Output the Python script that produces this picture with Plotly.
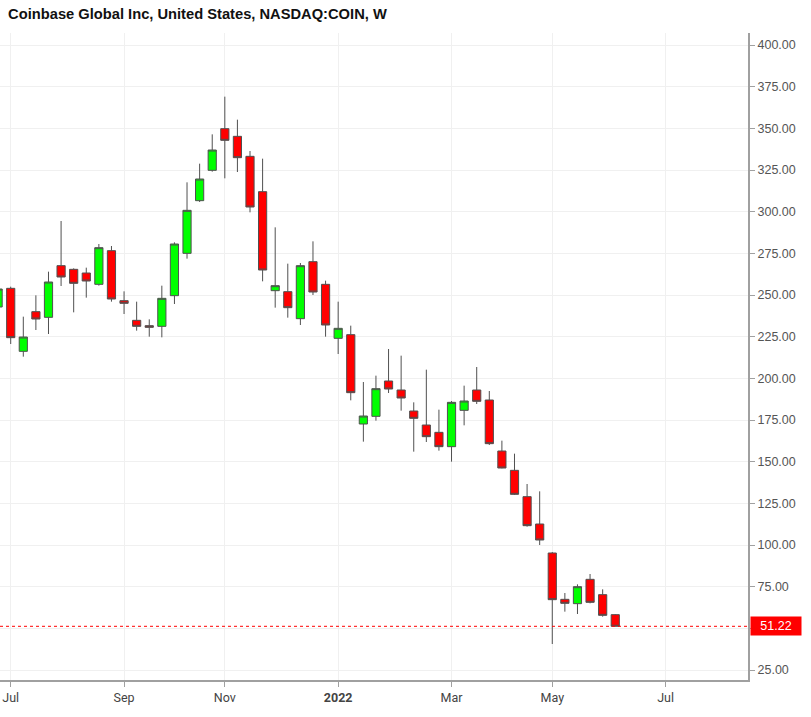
import pandas as pd
import plotly.graph_objects as go

# Weekly bars starting 2021-06-28
start_week = "2021-06-28"
n_weeks = 50

opens = [242.8, 254.0, 216.2, 240.0, 236.6, 267.6, 265.4, 263.2, 256.4, 276.6,
         246.6, 234.8, 231.6, 231.2, 249.6, 275.0, 306.6, 324.8, 349.8, 345.2,
         333.2, 312.0, 252.6, 252.0, 235.8, 270.0, 256.4, 224.0, 226.2, 172.6,
         177.2, 198.4, 193.0, 180.4, 172.0, 167.6, 159.0, 180.8, 193.0, 187.0,
         156.4, 144.8, 129.0, 112.6, 95.2, 67.4, 64.8, 79.4, 70.2, 58.2]
highs = [256.0, 255.0, 237.0, 249.8, 264.0, 294.4, 266.0, 266.4, 280.6, 279.4,
         252.2, 246.0, 235.4, 255.6, 281.6, 317.6, 328.8, 346.4, 369.0, 355.2,
         336.4, 331.8, 290.6, 268.8, 269.2, 282.2, 258.6, 246.0, 231.6, 197.8,
         201.6, 217.6, 213.6, 185.6, 205.2, 181.2, 186.4, 195.6, 206.8, 192.4,
         162.6, 154.8, 136.6, 132.2, 95.8, 71.2, 76.4, 82.6, 73.4, 58.5]
lows = [240.0, 220.6, 213.0, 229.0, 226.6, 255.4, 239.6, 248.4, 255.6, 246.0,
        238.6, 228.6, 225.0, 224.6, 244.6, 271.8, 305.8, 324.0, 320.0, 323.8,
        299.6, 258.2, 242.4, 236.4, 232.0, 250.0, 225.0, 214.6, 186.8, 162.0,
        174.6, 191.2, 180.6, 156.0, 161.8, 156.6, 150.0, 171.8, 184.6, 160.0,
        146.0, 130.0, 111.0, 100.0, 40.6, 60.0, 58.6, 65.0, 57.0, 51.22]
closes = [253.6, 224.4, 224.8, 235.6, 257.8, 260.8, 257.0, 258.4, 278.4, 247.6,
          245.0, 231.2, 230.6, 248.0, 280.6, 300.8, 319.6, 337.0, 342.8, 332.4,
          302.8, 265.0, 255.6, 242.4, 267.6, 251.8, 232.0, 230.0, 191.4, 177.4,
          193.8, 193.6, 188.2, 176.0, 165.0, 159.0, 185.6, 186.4, 186.2, 160.8,
          146.2, 130.4, 111.6, 103.0, 67.2, 65.0, 75.0, 65.6, 57.8, 51.22]

last_price = 51.22

tick_dates = ["2021-07-05", "2021-09-06", "2021-11-01", "2022-01-03",
              "2022-03-07", "2022-05-02", "2022-07-04"]
tick_labels = ["Jul", "Sep", "Nov", "<b>2022</b>", "Mar", "May", "Jul"]

y_ticks = [25, 50, 75, 100, 125, 150, 175, 200, 225, 250, 275, 300, 325, 350, 375, 400]
y_tick_labels = ["25.00", "", "75.00", "100.00", "125.00", "150.00", "175.00", "200.00",
                 "225.00", "250.00", "275.00", "300.00", "325.00", "350.00", "375.00", "400.00"]

dates = pd.date_range(start_week, periods=n_weeks, freq="7D")

fig = go.Figure()
fig.add_trace(go.Candlestick(
    x=dates, open=opens, high=highs, low=lows, close=closes,
    increasing=dict(fillcolor="#00ff00", line=dict(color="#505050", width=1)),
    decreasing=dict(fillcolor="#ff0000", line=dict(color="#505050", width=1)),
    whiskerwidth=0, showlegend=False, hoverinfo="skip",
))

t0 = pd.Timestamp(start_week)
x_left = t0 + pd.Timedelta(days=0.15 * 7)
x_right = t0 + pd.Timedelta(days=59.54 * 7)

fig.add_shape(type="line", xref="paper", x0=0, x1=1, yref="y", y0=last_price, y1=last_price,
              line=dict(color="#ff0000", width=1, dash="dot"))
fig.add_annotation(xref="paper", x=1, yref="y", y=last_price, text=f"{last_price:.2f}",
                   showarrow=False, xanchor="left", yanchor="middle", xshift=2,
                   bgcolor="#ff0000", font=dict(color="white", size=12.5, family="Liberation Sans, Arial"),
                   borderpad=2, width=46)

fig.update_layout(
    width=811, height=717,
    margin=dict(l=0, r=63, t=33, b=37),
    paper_bgcolor="white", plot_bgcolor="white",
    boxgap=0.35, boxgroupgap=0,
    title=dict(text="<b>Coinbase Global Inc, United States, NASDAQ:COIN, W</b>",
               x=0.01, xanchor="left", y=0.988, yanchor="top",
               font=dict(size=14.7, color="#111", family="Liberation Sans, Arial")),
    xaxis=dict(
        range=[x_left, x_right], rangeslider=dict(visible=False),
        tickmode="array", tickvals=pd.to_datetime(tick_dates), ticktext=tick_labels,
        showgrid=True, gridcolor="#f0f0f0", gridwidth=1,
        showline=True, linecolor="#a0a0a0", linewidth=2,
        ticks="outside", ticklen=5, tickcolor="#a0a0a0",
        tickfont=dict(size=12.5, color="#444", family="Liberation Sans Narrow, Roboto, Arial"),
        zeroline=False, fixedrange=True,
    ),
    yaxis=dict(
        side="right", range=[19.0, 407.2],
        tickmode="array", tickvals=y_ticks, ticktext=y_tick_labels,
        showgrid=True, gridcolor="#f0f0f0", gridwidth=1,
        showline=True, linecolor="#a0a0a0", linewidth=2,
        ticks="outside", ticklen=5, tickcolor="#a0a0a0",
        tickfont=dict(size=12.5, color="#555", family="Liberation Sans, Arial"),
        zeroline=False, fixedrange=True,
    ),
)

fig.write_html("out.html")
